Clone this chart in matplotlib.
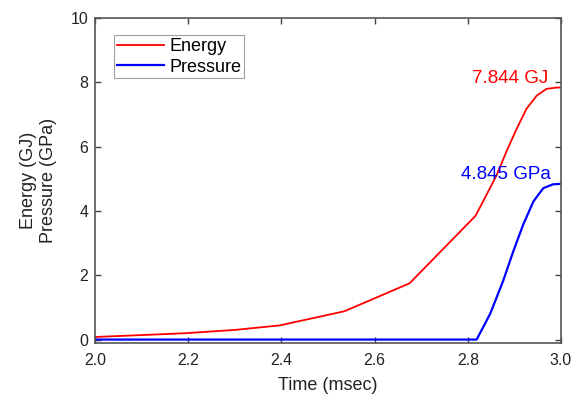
import matplotlib.pyplot as plt

plt.rcParams['font.family'] = ['Liberation Sans', 'DejaVu Sans']

# energy curve (GJ) vs time (msec)
t_energy = [2.0, 2.1, 2.196, 2.3, 2.396, 2.535, 2.675, 2.816, 2.833, 2.862, 2.883,
            2.905, 2.926, 2.948, 2.969, 2.991, 3.0]
energy = [0.08, 0.14, 0.2, 0.3, 0.44, 0.88, 1.75, 3.84, 4.30, 5.12, 5.85,
          6.56, 7.18, 7.59, 7.80, 7.84, 7.844]

# pressure curve (GPa)
t_pressure = [2.0, 2.819, 2.848, 2.876, 2.898, 2.919, 2.941, 2.962, 2.983, 3.0]
pressure = [0.0, 0.0, 0.80, 1.83, 2.76, 3.58, 4.30, 4.71, 4.83, 4.845]

xticks = [2.0, 2.2, 2.4, 2.6, 2.8, 3.0]
yticks = [0, 2, 4, 6, 8, 10]

fig = plt.figure(figsize=(5.73, 3.94), dpi=100)
ax = fig.add_axes([0.166, 0.130, 0.813, 0.824])

ax.plot(t_energy, energy, color="#ff0000", lw=1.3, label="Energy")
ax.plot(t_pressure, pressure, color="#0000ff", lw=1.6, label="Pressure")

ax.text(2.973, 8.13, "7.844 GJ", color="#ff0000", fontsize=13.5, ha="right", va="center")
ax.text(2.978, 5.13, "4.845 GPa", color="#0000ff", fontsize=13.5, ha="right", va="center")

ax.set_xlim(2.0, 3.0)
ax.set_ylim(-0.1, 10)
ax.set_xticks(xticks)
ax.set_xticklabels([f"{v:.1f}" for v in xticks])
ax.set_yticks(yticks)
ax.tick_params(direction="in", top=True, right=True, length=4, width=1,
               color="#444444", labelsize=11.4, labelcolor="#222222")
ax.tick_params(axis="x", pad=7)
ax.tick_params(axis="y", pad=5)
for s in ax.spines.values():
    s.set_color("#555555")
    s.set_linewidth(1.2)

ax.set_xlabel("Time (msec)", fontsize=13, color="#222222", labelpad=7)
ax.set_ylabel("Energy (GJ)\nPressure (GPa)", fontsize=13, color="#222222", labelpad=10)

leg = ax.legend(loc="upper left", bbox_to_anchor=(0.022, 0.975), fontsize=13,
                frameon=True, fancybox=False, handlelength=2.6,
                borderpad=0.15, labelspacing=0.2, handletextpad=0.3)
leg.get_frame().set_edgecolor("#888888")
leg.get_frame().set_linewidth(0.8)

fig.savefig("out.png", dpi=100)
